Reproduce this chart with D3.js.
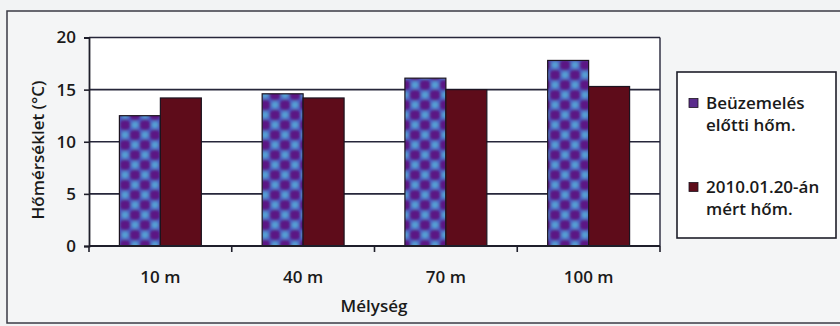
<!DOCTYPE html>
<html>
<head>
<meta charset="utf-8">
<script src="https://cdn.jsdelivr.net/npm/d3@7"></script>
<style>
  html, body { margin: 0; padding: 0; background: #f2f3f4; }
  svg { display: block; }
  text { font-family: "Open Sans", sans-serif; font-weight: 600; fill: #1a1a1a; }
</style>
</head>
<body>
<svg id="chart" width="840" height="326"></svg>
<script>
// Depths and temperatures (°C)
const categories = ["10 m", "40 m", "70 m", "100 m"];
const seriesNames = ["Beüzemelés előtti hőm.", "2010.01.20-án mért hőm."];
const legendLines = [["Beüzemelés", "előtti hőm."], ["2010.01.20-án", "mért hőm."]];
const beforeValues = [12.5, 14.6, 16.1, 17.8];
const measuredValues = [14.2, 14.2, 15.0, 15.3];
const yTicks = [0, 5, 10, 15, 20];
const xTitle = "Mélység";
const yTitle = "Hőmérséklet (°C)";

const svg = d3.select("#chart");
const plot = { left: 89, right: 660, top: 37.5, bottom: 246 };
const FS = "17px";

// outer frame
svg.append("rect").attr("x", 7).attr("y", 11).attr("width", 840).attr("height", 312)
  .attr("fill", "#f4f5f6").attr("stroke", "#3a3a44").attr("stroke-width", 1.5);

// checkered fill for the first series
const defs = svg.append("defs");
const blur = defs.append("filter").attr("id", "soft").attr("x", "-20%").attr("y", "-20%")
  .attr("width", "140%").attr("height", "140%");
blur.append("feGaussianBlur").attr("stdDeviation", 1.6);
const P = 20, h = P / 4;
const pat = defs.append("pattern").attr("id", "checker").attr("patternUnits", "userSpaceOnUse")
  .attr("width", P).attr("height", P);
pat.append("rect").attr("width", P).attr("height", P).attr("fill", "#4a5ec8");
const pg = pat.append("g").attr("filter", "url(#soft)");
const purpleAt = [[h, h], [3 * h, 3 * h], [-h, 3 * h], [3 * h, -h], [P + h, h], [h, P + h], [-h, -h], [P + h, P + h]];
const cyanAt = [[3 * h, h], [h, 3 * h], [-h, h], [P + h, 3 * h], [3 * h, P + h], [h, -h]];
purpleAt.forEach(([cx, cy]) => pg.append("circle").attr("cx", cx).attr("cy", cy).attr("r", 5.8).attr("fill", "#5c1884"));
cyanAt.forEach(([cx, cy]) => pg.append("circle").attr("cx", cx).attr("cy", cy).attr("r", 3.4).attr("fill", "#56a2d4"));

// plot area background
svg.append("rect").attr("x", plot.left).attr("y", plot.top)
  .attr("width", plot.right - plot.left).attr("height", plot.bottom - plot.top)
  .attr("fill", "#ffffff");

const x = d3.scaleBand().domain(categories).range([plot.left, plot.right])
  .paddingInner(0.426).paddingOuter(0.213);
const xs = d3.scaleBand().domain([0, 1]).range([0, x.bandwidth()]);
const y = d3.scaleLinear().domain([0, 20]).range([plot.bottom, plot.top]);

// horizontal gridlines
svg.append("g").selectAll("line").data(yTicks.filter(d => d > 0)).join("line")
  .attr("x1", plot.left).attr("x2", plot.right)
  .attr("y1", d => y(d)).attr("y2", d => y(d))
  .attr("stroke", "#26263a").attr("stroke-width", 1.7);

// right border of plot
svg.append("line").attr("x1", plot.right).attr("x2", plot.right)
  .attr("y1", plot.top).attr("y2", plot.bottom)
  .attr("stroke", "#26263a").attr("stroke-width", 1.4);

// bars
const seriesData = [beforeValues, measuredValues];
const fills = ["url(#checker)", "#5e0c1a"];
seriesData.forEach((vals, si) => {
  svg.append("g").selectAll("rect").data(vals).join("rect")
    .attr("x", (d, i) => x(categories[i]) + xs(si))
    .attr("y", d => y(d))
    .attr("width", xs.bandwidth())
    .attr("height", d => y(0) - y(d))
    .attr("fill", fills[si])
    .attr("stroke", "#1c1420").attr("stroke-width", 1.2);
});

// y axis
const yAxis = svg.append("g").attr("transform", `translate(${plot.left},0)`)
  .call(d3.axisLeft(y).tickValues(yTicks).tickSize(5).tickPadding(8));
yAxis.select(".domain").attr("stroke", "#1e1e2a").attr("stroke-width", 1.8);
yAxis.selectAll(".tick line").attr("stroke", "#1e1e2a").attr("stroke-width", 1.6);
yAxis.selectAll(".tick text").style("font-size", FS).attr("fill", "#1a1a1a");

// x axis with ticks between categories
const boundaries = d3.range(categories.length + 1).map(i => plot.left + i * x.step());
const xAxis = svg.append("g");
xAxis.append("line").attr("x1", plot.left).attr("x2", plot.right)
  .attr("y1", plot.bottom).attr("y2", plot.bottom)
  .attr("stroke", "#1e1e2a").attr("stroke-width", 1.8);
xAxis.selectAll("line.tk").data(boundaries).join("line").attr("class", "tk")
  .attr("x1", d => d).attr("x2", d => d)
  .attr("y1", plot.bottom).attr("y2", plot.bottom + 6)
  .attr("stroke", "#1e1e2a").attr("stroke-width", 1.6);
xAxis.selectAll("text").data(categories).join("text")
  .attr("x", d => x(d) + x.bandwidth() / 2).attr("y", 283)
  .attr("text-anchor", "middle").style("font-size", FS).text(d => d);

// axis titles
svg.append("text").attr("x", 374).attr("y", 312).attr("text-anchor", "middle")
  .style("font-size", FS).text(xTitle);
svg.append("text").attr("transform", "translate(44,150) rotate(-90)")
  .attr("text-anchor", "middle").style("font-size", FS).text(yTitle);

// legend
const lg = svg.append("g");
lg.append("rect").attr("x", 677).attr("y", 72).attr("width", 159).attr("height", 166)
  .attr("fill", "#ffffff").attr("stroke", "#1e1e2a").attr("stroke-width", 1.6);
const legendFills = ["#5a2c8c", "#5e0c1a"];
const legendY = [103, 187];
seriesNames.forEach((name, i) => {
  lg.append("rect").attr("x", 689).attr("y", legendY[i] - 4.5).attr("width", 9).attr("height", 9)
    .attr("fill", legendFills[i]).attr("stroke", "#1c1420").attr("stroke-width", 0.8);
  legendLines[i].forEach((ln, j) => {
    lg.append("text").attr("x", 706).attr("y", legendY[i] + j * 22 + 6)
      .style("font-size", FS).text(ln);
  });
});
</script>
</body>
</html>
